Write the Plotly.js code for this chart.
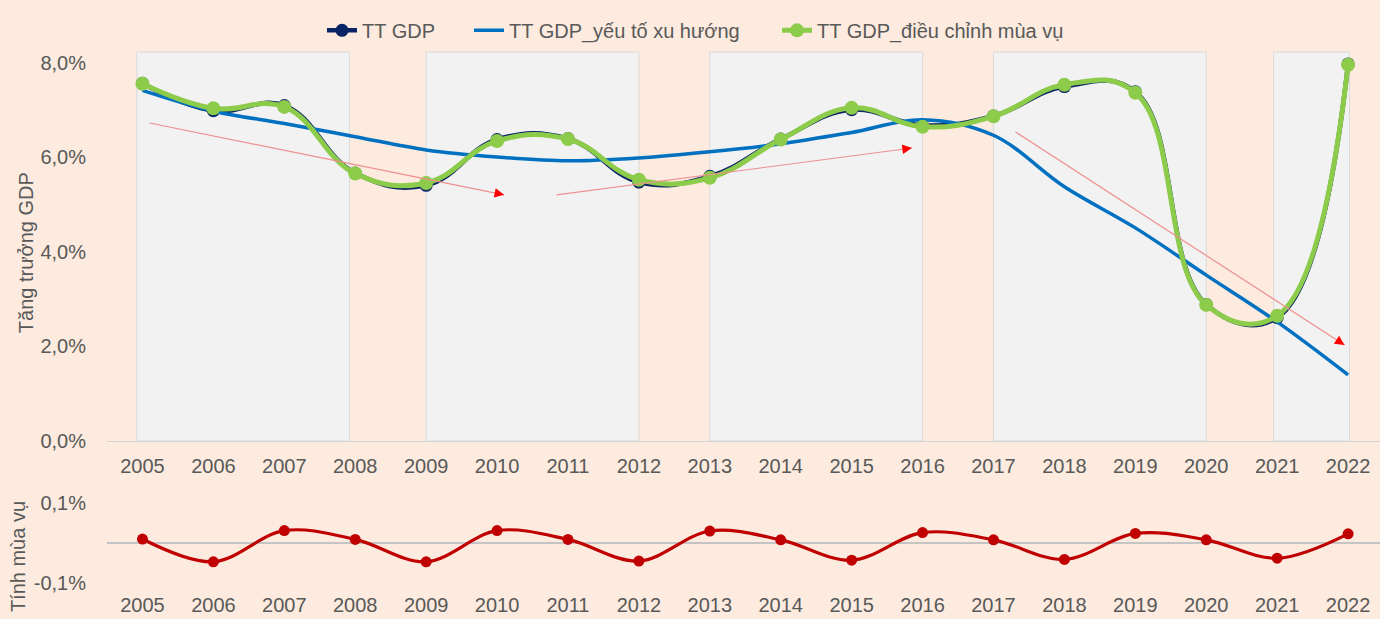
<!DOCTYPE html>
<html>
<head>
<meta charset="utf-8">
<script src="https://cdn.plot.ly/plotly-3.0.1.min.js"></script>
<style>
  html, body { margin: 0; padding: 0; background: #FCEBDE; }
  #chart { width: 1380px; height: 619px; }
</style>
</head>
<body>
<div id="chart"></div>
<script>
// ---- Data ----
const years = [2005, 2006, 2007, 2008, 2009, 2010, 2011, 2012, 2013, 2014, 2015, 2016, 2017, 2018, 2019, 2020, 2021, 2022];
const gdpGrowth = [7.57, 6.99, 7.10, 5.67, 5.41, 6.38, 6.40, 5.48, 5.60, 6.39, 7.01, 6.68, 6.88, 7.50, 7.39, 2.89, 2.61, 7.98];
const trendComponent = [7.42, 6.98, 6.72, 6.44, 6.16, 6.01, 5.93, 5.99, 6.12, 6.29, 6.53, 6.80, 6.47, 5.38, 4.51, 3.51, 2.52, 1.40];
const seasonallyAdjusted = [7.56, 7.04, 7.07, 5.66, 5.46, 6.35, 6.39, 5.53, 5.57, 6.38, 7.05, 6.65, 6.87, 7.54, 7.37, 2.88, 2.65, 7.96];
const seasonalComponent = [0.010, -0.047, 0.031, 0.009, -0.047, 0.031, 0.009, -0.045, 0.030, 0.008, -0.043, 0.026, 0.008, -0.041, 0.024, 0.008, -0.038, 0.023];

const seriesNames = ['TT GDP', 'TT GDP_yếu tố xu hướng', 'TT GDP_điều chỉnh mùa vụ', 'Tính mùa vụ'];
const topTickVals = [0, 2, 4, 6, 8];
const topTickText = ['0,0%', '2,0%', '4,0%', '6,0%', '8,0%'];
const bottomTickVals = [-0.1, 0.1];
const bottomTickText = ['-0,1%', '0,1%'];

// shaded periods (year spans) and trend arrows [x0, y0, x1, y1]
const shadedPeriods = [[2004.92, 2007.92], [2009.0, 2012.0], [2013.0, 2016.0], [2017.0, 2020.0], [2020.95, 2022.02]];
const trendArrows = [[2005.1, 6.73, 2010.1, 5.21], [2010.84, 5.21, 2015.85, 6.20], [2017.31, 6.54, 2021.95, 2.03]];

// ---- Styles ----
const C = {
  bg: '#FCEBDE', navy: '#0A2566', blue: '#0070C0', green: '#8DCB4B', red: '#C00000',
  text: '#595959', periodFill: '#F2F2F2', periodLine: '#DADADA', arrowLine: '#EE9090', arrowHead: '#FF0000'
};
const FONT = 'Liberation Sans, Arial, sans-serif';
const legendFont = { family: FONT, size: 20, color: C.text };

const traces = [
  { x: years, y: gdpGrowth, name: seriesNames[0], type: 'scatter', mode: 'lines+markers', legend: 'legend',
    line: { color: C.navy, width: 4.5, shape: 'spline', smoothing: 1.2 },
    marker: { color: C.navy, size: 13 }, xaxis: 'x', yaxis: 'y' },
  { x: years, y: trendComponent, name: seriesNames[1], type: 'scatter', mode: 'lines', legend: 'legend2',
    line: { color: C.blue, width: 3.5, shape: 'spline', smoothing: 1 }, xaxis: 'x', yaxis: 'y' },
  { x: years, y: seasonallyAdjusted, name: seriesNames[2], type: 'scatter', mode: 'lines+markers', legend: 'legend3',
    line: { color: C.green, width: 5, shape: 'spline', smoothing: 1.2 },
    marker: { color: C.green, size: 14 }, xaxis: 'x', yaxis: 'y' },
  { x: years, y: seasonalComponent, name: seriesNames[3], type: 'scatter', mode: 'lines+markers',
    line: { color: C.red, width: 3.2, shape: 'spline', smoothing: 1 },
    marker: { color: C.red, size: 11 }, showlegend: false, xaxis: 'x2', yaxis: 'y2' }
];

const shapes = shadedPeriods.map(p => ({
  type: 'rect', xref: 'x', yref: 'y', x0: p[0], x1: p[1], y0: 0, y1: 8.23,
  fillcolor: C.periodFill, line: { color: C.periodLine, width: 1 }, layer: 'below'
}));
trendArrows.forEach(a => shapes.push({
  type: 'line', xref: 'x', yref: 'y', x0: a[0], y0: a[1], x1: a[2], y1: a[3],
  line: { color: C.arrowLine, width: 1.2 }
}));

const PXX = 70.9, PXY = 47.25;
const annotations = trendArrows.map(a => {
  const dx = (a[2] - a[0]) * PXX, dy = -(a[3] - a[1]) * PXY;
  const L = Math.hypot(dx, dy);
  return { xref: 'x', yref: 'y', x: a[2], y: a[3], axref: 'pixel', ayref: 'pixel',
    ax: -dx / L * 10, ay: -dy / L * 10, text: '', showarrow: true,
    arrowhead: 2, arrowsize: 1.6, arrowwidth: 1.2, arrowcolor: C.arrowHead };
});
annotations.push(
  { xref: 'container', yref: 'paper', x: 0.5036, y: 1.008, xanchor: 'center', yanchor: 'middle',
    text: '<b>Tăng trưởng GDP Việt Nam (%)</b>', showarrow: false, font: { family: FONT, size: 20, color: '#000000' } },
  { xref: 'paper', yref: 'paper', x: -0.0636, y: 0.591, xanchor: 'center', yanchor: 'middle', textangle: -90,
    text: 'Tăng trưởng GDP', showarrow: false, font: { family: FONT, size: 20, color: C.text } },
  { xref: 'paper', yref: 'paper', x: -0.0699, y: 0.1, xanchor: 'center', yanchor: 'middle', textangle: -90,
    text: 'Tính mùa vụ', showarrow: false, font: { family: FONT, size: 20, color: C.text } }
);

const tickFont = { family: FONT, size: 20, color: C.text };
const xCommon = {
  range: [2004.5, 2022.45], tickvals: years, ticktext: years.map(String),
  ticks: 'outside', tickcolor: 'rgba(0,0,0,0)', showgrid: false, zeroline: false, tickfont: tickFont, fixedrange: true
};
const legendBase = { orientation: 'h', xref: 'container', yref: 'container', y: 0.951,
  xanchor: 'left', yanchor: 'middle', font: legendFont, bgcolor: 'rgba(0,0,0,0)', borderwidth: 0 };

const layout = {
  width: 1380, height: 619,
  margin: { l: 107, r: 0, t: 0, b: 0, autoexpand: false },
  paper_bgcolor: C.bg, plot_bgcolor: 'rgba(0,0,0,0)',
  font: { family: FONT, color: C.text },
  showlegend: true,
  legend: Object.assign({}, legendBase, { x: 322 / 1380 }),
  legend2: Object.assign({}, legendBase, { x: 469 / 1380 }),
  legend3: Object.assign({}, legendBase, { x: 777 / 1380 }),
  xaxis: Object.assign({}, xCommon, { anchor: 'y', domain: [0, 1], ticklen: 7,
    showline: true, linecolor: '#D4D4D4', linewidth: 1.5 }),
  yaxis: { anchor: 'x', domain: [0.2876, 0.9288], range: [0, 8.4], tickvals: topTickVals, ticktext: topTickText,
    ticks: 'outside', ticklen: 16, tickcolor: 'rgba(0,0,0,0)', showgrid: false, zeroline: false, tickfont: tickFont },
  xaxis2: Object.assign({}, xCommon, { anchor: 'y2', domain: [0, 1], ticks: '', ticklen: 0, showline: false }),
  yaxis2: { anchor: 'x2', domain: [0.0452, 0.2003], range: [-0.12, 0.12], tickvals: bottomTickVals, ticktext: bottomTickText,
    ticks: 'outside', ticklen: 16, tickcolor: 'rgba(0,0,0,0)', showgrid: false,
    zeroline: true, zerolinecolor: '#C4C4C4', zerolinewidth: 2, tickfont: tickFont },
  shapes: shapes,
  annotations: annotations
};

Plotly.newPlot('chart', traces, layout, { displayModeBar: false, staticPlot: true });
</script>
</body>
</html>
